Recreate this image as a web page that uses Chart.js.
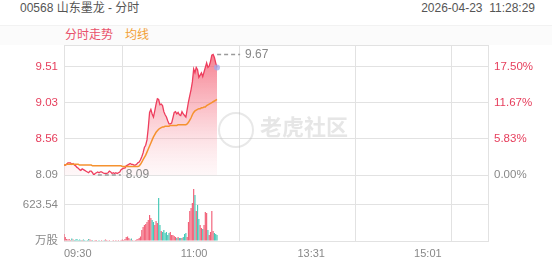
<!DOCTYPE html>
<html>
<head>
<meta charset="utf-8">
<script src="https://cdn.jsdelivr.net/npm/chart.js@4/dist/chart.umd.min.js"></script>
<style>
  html, body { margin:0; padding:0; background:#fff; }
  body { width:552px; height:265px; overflow:hidden; position:relative;
         font-family:'Liberation Sans','Noto Sans CJK SC',sans-serif; }
  .abs { position:absolute; white-space:nowrap; }
</style>
</head>
<body>
<div class="abs" style="left:20px;top:1px;font-size:12px;line-height:14px;color:#555;">00568 山东墨龙 - 分时</div>
<div class="abs" style="right:17px;top:1px;font-size:12px;line-height:14px;color:#555;">2026-04-23&nbsp;&nbsp;11:28:29</div>
<div class="abs" style="left:0;top:25px;width:552px;height:19px;background:#fbfbfb;border-top:1px solid #f2f2f2;"></div>
<div class="abs" style="left:65px;top:28px;font-size:12px;line-height:14px;color:#e9506a;">分时走势</div>
<div class="abs" style="left:125px;top:28px;font-size:12px;line-height:14px;color:#f2a035;">均线</div>
<canvas id="c" width="552" height="265" style="position:absolute;left:0;top:0;"></canvas>
<div class="abs" style="left:218px;top:112px;width:32px;height:32px;border:2px solid rgba(190,190,190,0.35);border-radius:50%;"></div>
<div class="abs" style="left:260px;top:115px;font-size:22px;line-height:26px;font-weight:bold;color:rgba(200,200,200,0.45);">老虎社区</div>
<script>
// ---------- data ----------
const prevClose = 8.09;
const xTickIdx = [0, 90, 180, 270];
const xTickLabels = ['09:30', '11:00', '13:31', '15:01'];
const pctTicks = [0, 5.8333, 11.6667, 17.5];
const pctTickLabels = ['0.00%', '5.83%', '11.67%', '17.50%'];
const priceTickLabels = ['8.09', '8.56', '9.03', '9.51'];
const volTicks = [0, 623.54];
const volTickLabels = ['万股', '623.54'];

const prices = [
  8.22,8.22,8.23,8.25,8.25,8.25,8.23,8.24,8.22,8.21,
  8.19,8.18,8.16,8.15,8.17,8.16,8.15,8.14,8.13,8.12,
  8.14,8.14,8.12,8.09,8.11,8.12,8.13,8.12,8.13,8.13,
  8.12,8.11,8.11,8.11,8.12,8.14,8.13,8.11,8.12,8.11,
  8.12,8.11,8.12,8.13,8.16,8.17,8.18,8.18,8.21,8.22,
  8.23,8.24,8.23,8.23,8.22,8.22,8.23,8.25,8.26,8.29,
  8.33,8.38,8.45,8.48,8.55,8.71,8.91,8.95,8.89,8.85,
  8.93,9.02,9.09,9.08,9.01,9.02,9.00,8.92,8.88,8.85,
  8.80,8.76,8.76,8.77,8.84,8.91,8.92,8.89,8.91,8.88,
  8.87,8.92,8.89,8.87,8.85,8.95,9.05,9.13,9.21,9.31,
  9.48,9.43,9.50,9.47,9.37,9.40,9.43,9.38,9.44,9.50,
  9.56,9.50,9.52,9.58,9.66,9.67,9.63,9.56,9.50
];
const avgPrices = [
  8.22,8.22,8.23,8.23,8.23,8.23,8.23,8.23,8.23,8.23,
  8.23,8.23,8.22,8.22,8.22,8.22,8.22,8.22,8.22,8.22,
  8.22,8.22,8.21,8.21,8.21,8.21,8.21,8.21,8.21,8.21,
  8.21,8.21,8.21,8.21,8.21,8.21,8.21,8.21,8.21,8.21,
  8.21,8.21,8.21,8.21,8.21,8.20,8.20,8.20,8.20,8.20,
  8.20,8.20,8.20,8.20,8.20,8.20,8.20,8.20,8.21,8.23,
  8.26,8.29,8.32,8.35,8.39,8.43,8.47,8.51,8.55,8.59,
  8.62,8.65,8.67,8.69,8.70,8.71,8.72,8.72,8.73,8.73,
  8.73,8.73,8.74,8.74,8.74,8.74,8.74,8.74,8.75,8.75,
  8.75,8.75,8.75,8.75,8.75,8.76,8.78,8.81,8.84,8.88,
  8.91,8.93,8.94,8.95,8.96,8.96,8.97,8.97,8.98,8.98,
  9.00,9.01,9.02,9.03,9.04,9.05,9.06,9.07,9.08
];
const volumes = [
  121,69,35,26,35,17,43,26,17,26,
  35,17,26,17,17,26,17,9,17,35,
  26,17,17,9,17,17,9,17,9,17,
  9,17,26,17,9,17,9,9,17,9,
  17,9,17,9,17,26,17,35,69,78,
  52,26,43,17,9,17,26,35,52,78,
  190,242,277,294,329,364,450,398,364,329,
  277,346,312,745,277,173,156,190,139,156,
  104,139,156,104,104,87,69,52,69,52,
  52,52,69,121,139,69,329,520,571,658,
  900,797,520,623,381,277,225,208,277,502,
  485,190,104,156,520,173,139,121,104
];

// ---------- layout constants ----------
const PRICE_W = 130, VOL_W = 66;
const X_MAX = 327;
const yMax = 9.794;
const volMax = 1143;
const pctMax = (yMax / prevClose - 1) * 100;
const pctMin = -pctMax * VOL_W / PRICE_W;
const RED = '#e63e5c', GREY = '#888888', GRID = '#e2e2e2';
const FAMILY = "'Liberation Sans','Noto Sans CJK SC',sans-serif";

Chart.defaults.font.family = FAMILY;

const volColors = volumes.map((v, i) => {
  const prev = i === 0 ? prevClose : prices[i - 1];
  return prices[i] >= prev ? 'rgba(240,80,105,0.9)' : 'rgba(50,195,175,0.9)';
});

const hiLoPlugin = {
  id: 'hilo',
  afterDatasetsDraw(chart) {
    const { ctx, scales } = chart;
    let hi = 0, lo = 0;
    prices.forEach((p, i) => { if (p > prices[hi]) hi = i; if (p < prices[lo]) lo = i; });
    ctx.save();
    ctx.font = '12px ' + FAMILY;
    ctx.textBaseline = 'middle';
    ctx.textAlign = 'left';
    [hi, lo].forEach(i => {
      const px = scales.x.getPixelForValue(i);
      const py = scales.y.getPixelForValue(prices[i]);
      ctx.strokeStyle = '#9a9a9a';
      ctx.lineWidth = 1.5;
      ctx.setLineDash([4, 3]);
      ctx.beginPath();
      ctx.moveTo(px + 4, py);
      ctx.lineTo(px + 27, py);
      ctx.stroke();
      ctx.setLineDash([]);
      ctx.fillStyle = GREY;
      ctx.fillText(prices[i].toFixed(2), px + 32, py);
    });
    ctx.restore();
  }
};

new Chart(document.getElementById('c'), {
  type: 'line',
  data: {
    datasets: [
      {
        type: 'line', label: '分时走势',
        data: prices.map((p, i) => ({ x: i, y: p })),
        yAxisID: 'y', xAxisID: 'x',
        borderColor: '#ee3d5d', borderWidth: 1.3, tension: 0,
        pointRadius: c => c.dataIndex === prices.length - 1 ? 3 : 0,
        pointBackgroundColor: 'rgba(160,170,235,0.75)', pointBorderWidth: 0,
        fill: 'start',
        backgroundColor: c => {
          const ch = c.chart; const area = ch.chartArea;
          if (!area) return 'rgba(240,80,100,0.3)';
          const sy = ch.scales.y;
          const g = ch.ctx.createLinearGradient(0, sy.top, 0, sy.bottom);
          g.addColorStop(0, 'rgba(242,75,98,0.78)');
          g.addColorStop(0.5, 'rgba(246,130,145,0.48)');
          g.addColorStop(1, 'rgba(252,205,212,0.15)');
          return g;
        },
        order: 2
      },
      {
        type: 'line', label: '均线',
        data: avgPrices.map((p, i) => ({ x: i, y: p })),
        yAxisID: 'y', xAxisID: 'x',
        borderColor: '#f5922f', borderWidth: 1.5, pointRadius: 0, fill: false, tension: 0,
        order: 1
      },
      {
        type: 'bar', label: '成交量',
        data: volumes.map((v, i) => ({ x: i, y: v })),
        yAxisID: 'yv', xAxisID: 'x',
        backgroundColor: volColors, borderWidth: 0,
        barPercentage: 1, categoryPercentage: 0.9,
        order: 3
      }
    ]
  },
  options: {
    responsive: false, animation: false, devicePixelRatio: 1,
    layout: { padding: { top: 45, left: 0, right: 0, bottom: 0 } },
    plugins: { legend: { display: false }, tooltip: { enabled: false } },
    scales: {
      x: {
        type: 'linear', min: 0, max: X_MAX, offset: false,
        grid: { color: GRID, drawTicks: false },
        border: { color: GRID },
        afterBuildTicks: s => { s.ticks = xTickIdx.concat([X_MAX]).map(v => ({ value: v })); },
        afterFit: s => { s.height = 24; },
        ticks: {
          align: 'start', padding: 6, color: GREY, maxRotation: 0, autoSkip: false,
          font: { size: 11 },
          callback: v => { const k = xTickIdx.indexOf(v); return k >= 0 ? xTickLabels[k] : ''; }
        }
      },
      y: {
        type: 'linear', position: 'left', stack: 'left', stackWeight: PRICE_W, weight: 1,
        min: prevClose, max: yMax,
        grid: { color: GRID, drawTicks: false },
        border: { color: GRID },
        afterBuildTicks: s => {
          s.ticks = pctTicks.map(p => ({ value: prevClose * (1 + p / 100) })).concat([{ value: yMax }]);
        },
        afterFit: s => { s.width = 64; },
        ticks: {
          padding: 6, font: { size: 11.5 },
          color: c => (c.index > 0 ? RED : GREY),
          callback: (v, i) => (i < priceTickLabels.length ? priceTickLabels[i] : '')
        }
      },
      yv: {
        type: 'linear', position: 'left', stack: 'left', stackWeight: VOL_W, weight: 0,
        min: 0, max: volMax,
        grid: { color: GRID, drawTicks: false },
        border: { color: GRID },
        afterBuildTicks: s => { s.ticks = volTicks.map(v => ({ value: v })); },
        afterFit: s => { s.width = 64; },
        ticks: {
          padding: 6, font: { size: 11.5 }, color: GREY,
          callback: (v, i) => volTickLabels[i]
        }
      },
      pct: {
        type: 'linear', position: 'right', min: pctMin, max: pctMax,
        grid: { display: false, drawTicks: false },
        border: { color: GRID },
        afterBuildTicks: s => { s.ticks = pctTicks.map(v => ({ value: v })); },
        afterFit: s => { s.width = 64; },
        ticks: {
          padding: 6, font: { size: 11.5 },
          color: c => (c.index > 0 ? RED : GREY),
          callback: (v, i) => pctTickLabels[i]
        }
      }
    }
  },
  plugins: [hiLoPlugin]
});
</script>
</body>
</html>
